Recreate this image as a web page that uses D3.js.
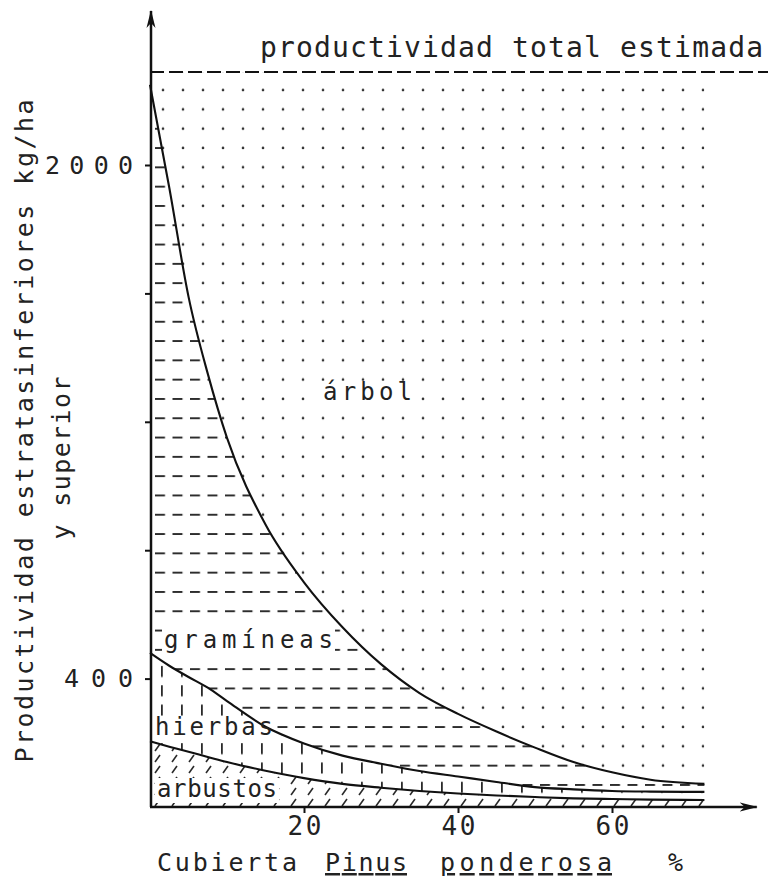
<!DOCTYPE html>
<html lang="es">
<head>
<meta charset="utf-8">
<title>Productividad por estratos</title>
<script src="https://cdn.jsdelivr.net/npm/d3@7"></script>
<style>
  body { margin: 0; background: #fff; }
  svg text { font-family: "DejaVu Sans Mono", monospace; fill: #222; }
</style>
</head>
<body>
<script>
// cubierta de Pinus ponderosa (%)
const cover = [0, 2.5, 5, 7.5, 10, 15, 20, 25, 30, 35, 40, 45, 50, 55, 60, 65, 72];
// productividad de cada estrato (kg/ha)
const arbustos  = [205, 188, 172, 156, 140, 113, 90, 72, 60, 50, 42, 36, 31, 27, 25, 23, 22];
const hierbas   = [275, 252, 233, 216, 190, 137, 108, 88, 75, 62, 53, 42, 31, 28, 25, 25, 25];
const gramineas = [1770, 1490, 1185, 978, 820, 630, 502, 400, 310, 243, 195, 157, 123, 85, 58, 37, 25];
const arbol     = [40, 360, 700, 940, 1140, 1410, 1590, 1730, 1845, 1935, 2000, 2055, 2105, 2150, 2182, 2205, 2218];
const totalEstimado = 2290;
const yTicks = [400, 800, 1200, 1600, 2000];
const yTickLabels = { 400: "400", 2000: "2000" };
const xTicks = [20, 40, 60];

const W = 768, H = 882;
const svg = d3.select("body").append("svg").attr("width", W).attr("height", H);

// scales
const x = d3.scaleLinear().domain([0, 60]).range([150, 612]);
const y = d3.scaleLinear().domain([0, 2000]).range([807, 165]);

// table for the stack
const rows = cover.map((c, i) => ({
  cover: c, arbustos: arbustos[i], hierbas: hierbas[i], gramineas: gramineas[i], arbol: arbol[i]
}));
const keys = ["arbustos", "hierbas", "gramineas", "arbol"];
const series = d3.stack().keys(keys)(rows);

// hatch patterns
const defs = svg.append("defs");
const ink = "#2a2a2a";
const pDots = defs.append("pattern").attr("id", "p-arbol").attr("patternUnits", "userSpaceOnUse")
  .attr("x", 153).attr("y", 80.5).attr("width", 20).attr("height", 19.3);
pDots.append("circle").attr("cx", 10).attr("cy", 9.6).attr("r", 1.3).attr("fill", "#333");

const pDash = defs.append("pattern").attr("id", "p-gramineas").attr("patternUnits", "userSpaceOnUse")
  .attr("x", 155).attr("y", 80.5).attr("width", 17.5).attr("height", 19.3);
pDash.append("rect").attr("x", 0).attr("y", 8.7).attr("width", 10).attr("height", 1.9).attr("fill", ink);

const pVert = defs.append("pattern").attr("id", "p-hierbas").attr("patternUnits", "userSpaceOnUse")
  .attr("x", 152).attr("y", 84).attr("width", 20).attr("height", 19.3);
pVert.append("rect").attr("x", 9).attr("y", 3).attr("width", 1.8).attr("height", 11).attr("fill", ink);

const pSlash = defs.append("pattern").attr("id", "p-arbustos").attr("patternUnits", "userSpaceOnUse")
  .attr("x", 152).attr("y", 742).attr("width", 17).attr("height", 11);
pSlash.append("path").attr("d", "M3,9 L8,2").attr("stroke", ink).attr("stroke-width", 1.6);

// arrow head
defs.append("marker").attr("id", "arrow").attr("viewBox", "0 -5 18 10")
  .attr("refX", 17).attr("refY", 0).attr("markerUnits", "userSpaceOnUse")
  .attr("markerWidth", 18).attr("markerHeight", 10).attr("orient", "auto")
  .append("path").attr("d", "M0,-4.5 L18,0 L0,4.5 L5,0 Z").attr("fill", "#111");

// areas
const area = d3.area().curve(d3.curveMonotoneX)
  .x(d => x(d.data.cover)).y0(d => y(d[0])).y1(d => y(d[1]));
svg.append("g").selectAll("path").data(series).join("path")
  .attr("d", area)
  .attr("fill", d => `url(#p-${d.key})`);

// region labels with white background
const labels = [
  { text: "árbol", x: 323, y: 400, len: 89 },
  { text: "gramíneas", x: 164, y: 648, len: 169 },
  { text: "hierbas", x: 155, y: 735, len: 118 },
  { text: "arbustos", x: 157, y: 797, len: 120 }
];
const labG = svg.append("g");
const bgG = labG.append("g");
const curveG = svg.append("g");
const txtG = svg.append("g");
labels.forEach(l => {
  const t = txtG.append("text").attr("x", l.x).attr("y", l.y)
    .attr("font-size", 24).attr("textLength", l.len).attr("lengthAdjust", "spacing")
    .text(l.text);
  const b = t.node().getBBox();
  bgG.append("rect").attr("x", b.x - 2).attr("y", b.y + 3).attr("width", b.width + 4)
    .attr("height", b.height - 3).attr("fill", "#fff");
});

// boundary curves (tops of the three lower strata)
const line = d3.line().curve(d3.curveMonotoneX)
  .x(d => x(d.data.cover)).y(d => y(d[1]));
curveG.selectAll("path").data(series.slice(0, 3)).join("path")
  .attr("d", line).attr("fill", "none").attr("stroke", "#111").attr("stroke-width", 2.1);

// total estimated productivity
svg.append("line")
  .attr("x1", x(0)).attr("x2", x(80.5))
  .attr("y1", y(totalEstimado)).attr("y2", y(totalEstimado))
  .attr("stroke", "#111").attr("stroke-width", 2).attr("stroke-dasharray", "14,5");
svg.append("text").attr("x", 260).attr("y", 57).attr("font-size", 28)
  .attr("textLength", 503).attr("lengthAdjust", "spacing")
  .text("productividad total estimada");

// axes lines with arrows
svg.append("line").attr("x1", x(0) + 1).attr("x2", x(0) + 1).attr("y1", y(0)).attr("y2", y(2480))
  .attr("stroke", "#111").attr("stroke-width", 2.5).attr("marker-end", "url(#arrow)");
svg.append("line").attr("x1", x(0)).attr("x2", x(78.8)).attr("y1", y(0)).attr("y2", y(0))
  .attr("stroke", "#111").attr("stroke-width", 2.5).attr("marker-end", "url(#arrow)");

// y axis ticks
const yAxisG = svg.append("g").attr("transform", `translate(${x(0) + 1},0)`)
  .call(d3.axisLeft(y).tickValues(yTicks).tickSize(6).tickPadding(12)
    .tickFormat(d => yTickLabels[d] || ""));
yAxisG.select(".domain").remove();
yAxisG.selectAll(".tick line").attr("stroke", "#111").attr("stroke-width", 2);
yAxisG.selectAll(".tick text")
  .attr("font-family", null).attr("font-size", 25)
  .attr("textLength", d => d === 2000 ? 88 : 69).attr("lengthAdjust", "spacing");
yAxisG.attr("font-family", null).attr("font-size", null);

// x axis ticks
const xAxisG = svg.append("g").attr("transform", `translate(0,${y(0)})`)
  .call(d3.axisBottom(x).tickValues(xTicks).tickSize(6).tickPadding(4));
xAxisG.select(".domain").remove();
xAxisG.selectAll(".tick line").attr("stroke", "#111").attr("stroke-width", 2);
xAxisG.selectAll(".tick text").attr("font-size", 26)
  .attr("textLength", 34).attr("lengthAdjust", "spacing");
xAxisG.attr("font-family", null).attr("font-size", null);

// axis titles
const xTitle = [
  { text: "Cubierta", x: 157, len: 140, u: false },
  { text: "Pinus", x: 325, len: 82, u: true },
  { text: "ponderosa", x: 440, len: 172, u: true },
  { text: "%", x: 668, len: 27, u: false }
];
xTitle.forEach(w => {
  svg.append("text").attr("x", w.x).attr("y", 871).attr("font-size", 25)
    .attr("textLength", w.len).attr("lengthAdjust", "spacing")
    .style("text-decoration", w.u ? "underline" : "none")
    .text(w.text);
});

svg.append("text").attr("transform", "translate(33,431) rotate(-90)")
  .attr("text-anchor", "middle").attr("font-size", 25)
  .attr("textLength", 663).attr("lengthAdjust", "spacing")
  .text("Productividad estratasinferiores kg/ha");
svg.append("text").attr("transform", "translate(70,458) rotate(-90)")
  .attr("text-anchor", "middle").attr("font-size", 25)
  .attr("textLength", 163).attr("lengthAdjust", "spacing")
  .text("y superior");
</script>
</body>
</html>
